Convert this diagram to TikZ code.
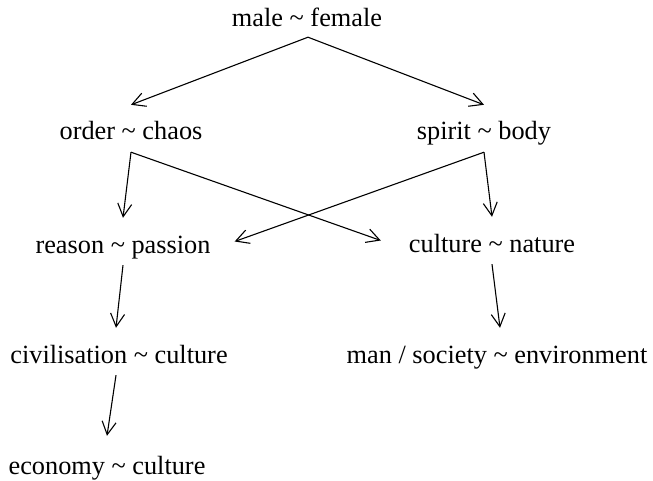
\documentclass[tikz,border=0pt]{standalone}
\usepackage{fontspec}
\setmainfont{Liberation Serif}
\usetikzlibrary{arrows.meta}
\begin{document}
\begin{tikzpicture}[x=1pt,y=-1pt,
  lbl/.style={anchor=base,inner sep=0pt,text height=35pt,text depth=12pt,
    font=\fontsize{26.3}{30}\selectfont},
  arr/.style={line width=1.1pt,-{Straight Barb[length=13pt,width=14pt,line width=1.1pt]}}]
\useasboundingbox (0,0) rectangle (653,481);
\node[lbl] (m) at (307,27) {male \char`\~{} female};
\node[lbl] (o) at (131,140) {order \char`\~{} chaos};
\node[lbl] (s) at (484,140) {spirit \char`\~{} body};
\node[lbl] (r) at (123,253) {reason \char`\~{} passion};
\node[lbl] (c) at (492,252) {culture \char`\~{} nature};
\node[lbl] (v) at (119,363) {civilisation \char`\~{} culture};
\node[lbl] (e) at (107,474) {economy \char`\~{} culture};
\node[lbl] (w) at (497,363) {man / society \char`\~{} environment};
\draw[arr] ([xshift=1pt,yshift=2pt]m.south) -- (o.north);
\draw[arr] ([xshift=1pt,yshift=2pt]m.south) -- (s.north);
\draw[arr] (o.south) -- (r.north);
\draw[arr] (o.south) -- ([xshift=-28pt]c.west);
\draw[arr] (s.south) -- ([xshift=24pt]r.east);
\draw[arr] (s.south) -- (c.north);
\draw[arr] (r.south) -- ([xshift=-3pt]v.north);
\draw[arr] ([xshift=-3pt]v.south) -- ([yshift=3pt]e.north);
\draw[arr] (c.south) -- ([xshift=3pt]w.north);
\end{tikzpicture}
\end{document}
